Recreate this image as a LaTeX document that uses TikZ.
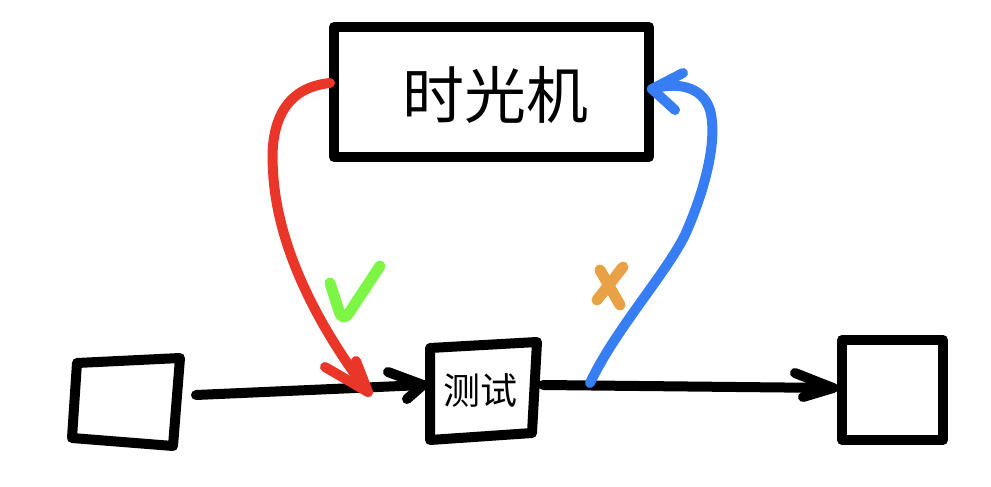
\documentclass[tikz,border=0pt]{standalone}
\usepackage{fontspec}
\newfontfamily\cjk{Noto Sans CJK SC}
\definecolor{penred}{HTML}{EA3628}
\definecolor{penblue}{HTML}{377DF3}
\definecolor{pengreen}{HTML}{7CF545}
\definecolor{penorange}{HTML}{E9A145}
\begin{document}
\begin{tikzpicture}[x=1pt,y=-1pt,
  ink/.style={line width=10pt,line cap=round,line join=round},
  boxline/.style={line width=10pt,line join=round},
  lbl/.style={inner sep=0pt,font=\cjk}]
\useasboundingbox[fill=white] (0,0) rectangle (991,487);
% top box
\draw[boxline] (334,27) rectangle (649,157);
\node[lbl,font=\cjk\fontsize{62}{62}\selectfont] (tm) at (495,95) {时光机};
% left box
\coordinate (l1) at (77,363); \coordinate (l2) at (180,358);
\coordinate (l3) at (173,446); \coordinate (l4) at (72,438);
\draw[boxline] (l1) -- (l2) -- (l3) -- (l4) -- cycle;
% test box
\coordinate (t1) at (430,348); \coordinate (t2) at (537,342);
\coordinate (t3) at (532,433); \coordinate (t4) at (430,440);
\draw[boxline] (t1) -- (t2) -- (t3) -- (t4) -- cycle;
\node[lbl,font=\cjk\fontsize{37}{37}\selectfont] (cs) at (480,390) {测试};
% right box
\draw[boxline] (842,340) rectangle (943,440);
% black arrows
\coordinate (a1s) at (196,395); \coordinate (a1t) at (423,385);
\coordinate (a1b1) at (388,372); \coordinate (a1b2) at (407,399);
\draw[ink] (a1s) -- (a1t);
\draw[ink] (a1b1) -- (a1t) -- (a1b2);
\coordinate (a2s) at (543,385); \coordinate (a2t) at (833,388);
\coordinate (a2b1) at (795,373); \coordinate (a2b2) at (803,397);
\draw[ink] (a2s) -- (a2t);
\draw[ink] (a2b1) -- (a2t) -- (a2b2);
% red arrow
\coordinate (rs) at (330,83); \coordinate (rt) at (368,392);
\draw[ink,penred] (rs) .. controls (280,88) and (270,130) .. (273,170)
   .. controls (276,240) and (312,318) .. (rt);
\draw[ink,penred] (325,367) -- (rt) -- (356,361);
% blue arrow
\coordinate (bs) at (590,383); \coordinate (bt) at (652,89);
\draw[ink,penblue] (bs) .. controls (615,330) and (665,275) .. (685,235)
   .. controls (705,190) and (718,140) .. (710,110)
   .. controls (702,85) and (675,82) .. (bt);
\draw[ink,penblue] (683,73) -- (bt) -- (675,110);
% check mark
\draw[ink,pengreen,line width=11pt] (330,283) -- (339,311) .. controls (341,318) and (345,319) .. (349,313) -- (380,266);
% cross
\draw[ink,penorange,line width=11pt] (600,270) -- (620,305);
\draw[ink,penorange,line width=11pt] (623,267) -- (597,300);
\end{tikzpicture}
\end{document}
